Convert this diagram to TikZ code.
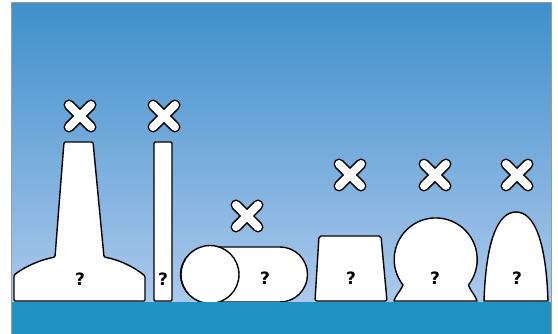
\documentclass[tikz,border=0pt]{standalone}
\usepackage{fontspec}
\setmainfont{DejaVu Sans}
\begin{document}
\begin{tikzpicture}[x=1pt,y=-1pt,
  body/.style={draw=black,fill=white,line width=1.4pt,line join=round,rounded corners=1.2pt},
  qmark/.style={font=\bfseries\fontsize{17}{17}\selectfont,inner sep=0pt},
  xout/.style={line width=11pt,line cap=round,draw=black},
  xin/.style={line width=8pt,line cap=round,draw=white}]
\definecolor{skytop}{RGB}{63,143,204}
\definecolor{skybot}{RGB}{172,201,236}
\definecolor{sea}{RGB}{31,148,194}
\definecolor{frame}{RGB}{150,155,160}
\useasboundingbox (0,0) rectangle (558,334);
\fill[white] (0,0) rectangle (558,334);
\shade[top color=skytop,bottom color=skybot] (11,3) rectangle (551,302);
% shapes
\path[body] (14,301) -- (14,275) .. controls (26,266) and (40,260) .. (55,257)
  -- (64,142) -- (93,142) -- (104,257) .. controls (120,260) and (134,267) .. (145,276)
  -- (145,301) -- cycle;
\path[body] (154,142) rectangle (172,301);
\path[body,rounded corners=0pt] (208,247) -- (280,247) arc[start angle=-90,end angle=90,radius=27.5] -- (208,302) arc[start angle=90,end angle=270,radius=27.5] -- cycle;
\path[body,rounded corners=0pt] (210,274.5) circle[radius=29];
\path[body,rounded corners=2pt] (319,236) -- (381,236) -- (387,301) -- (315,301) -- cycle;
\path[body,rounded corners=0pt] (403,285) arc[start angle=142,end angle=398,radius=41.5]
  .. controls (471,292) and (476,296) .. (477,301) -- (394,301) .. controls (395,296) and (400,292) .. (403,285) -- cycle;
\path[body,rounded corners=0pt] (484,301) .. controls (486,240) and (498,212) .. (516,212)
  .. controls (534,212) and (546,240) .. (548,301) -- cycle;
% sea
\fill[sea] (11,302) rectangle (551,334);
\draw[frame,line width=1pt] (11,334) -- (11,3) -- (551,3) -- (551,334);
% question marks
\node[qmark] (q1) at (80,279) {?};
\node[qmark] (q2) at (163,279) {?};
\node[qmark] (q3) at (265,278) {?};
\node[qmark] (q4) at (351,278) {?};
\node[qmark] (q5) at (435,278) {?};
\node[qmark] (q6) at (517,278) {?};
% crosses
\foreach \n/\cx/\cy in {c1/80/116, c2/164/116, c3/247/216, c4/350/175, c5/435/175, c6/517/175}{
  \coordinate (\n) at (\cx,\cy);
  \draw[xout] ([shift={(-11,-11)}]\n) -- ([shift={(11,11)}]\n);
  \draw[xout] ([shift={(-11,11)}]\n) -- ([shift={(11,-11)}]\n);
  \draw[xin] ([shift={(-11,-11)}]\n) -- ([shift={(11,11)}]\n);
  \draw[xin] ([shift={(-11,11)}]\n) -- ([shift={(11,-11)}]\n);
}
\end{tikzpicture}
\end{document}
